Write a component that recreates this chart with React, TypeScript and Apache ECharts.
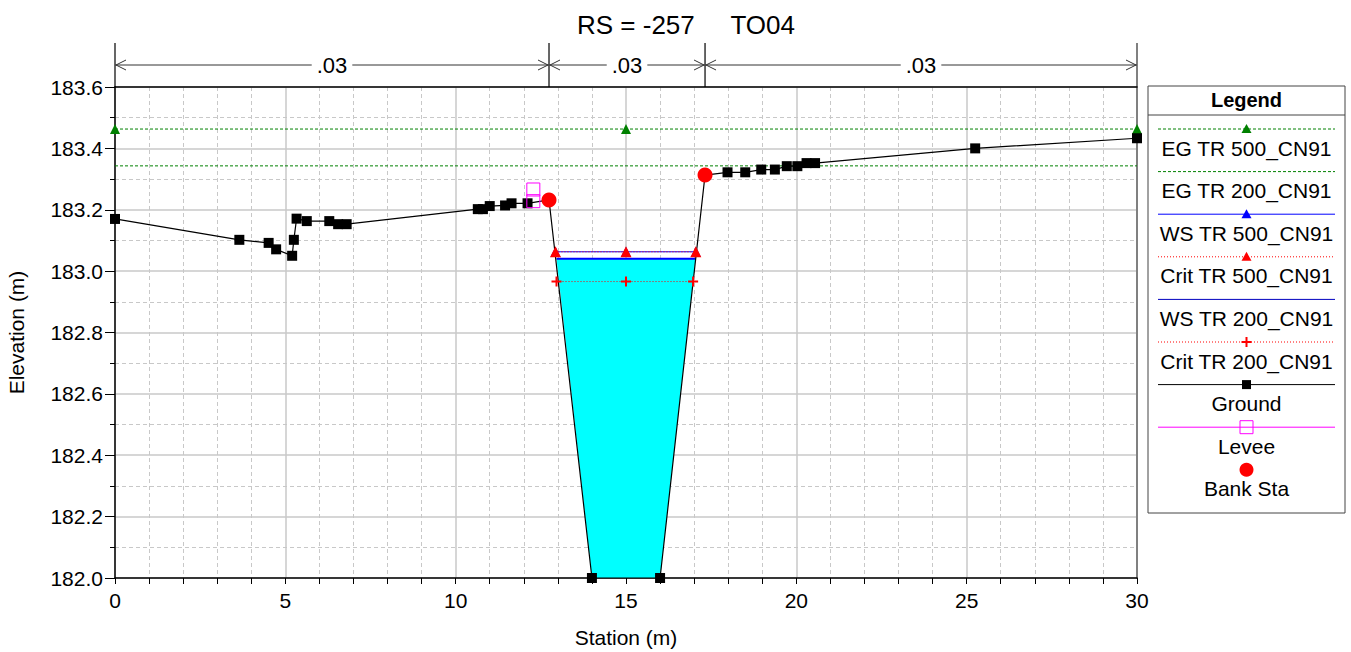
import React, { useEffect, useRef } from "react";
import * as echarts from "echarts";

// ---------- DATA ----------
const titleText = "RS = -257     TO04";
const groundStation = [0, 3.65, 4.51, 4.73, 5.2, 5.25, 5.33, 5.63, 6.29, 6.55, 6.8, 10.65, 10.8, 11.0, 11.45, 11.64, 12.11, 12.74, 14.0, 16.0, 17.32, 17.98, 18.5, 18.97, 19.37, 19.72, 20.03, 20.3, 20.55, 25.25, 30.0];
const groundElev = [183.17, 183.102, 183.092, 183.071, 183.05, 183.102, 183.171, 183.163, 183.163, 183.153, 183.153, 183.202, 183.202, 183.212, 183.214, 183.221, 183.221, 183.232, 182.0, 182.0, 183.313, 183.322, 183.322, 183.331, 183.331, 183.342, 183.342, 183.352, 183.352, 183.4, 183.433];
const bankStation = [12.74, 17.32];
const bankElev = [183.232, 183.313];
const leveeStation = [12.28, 12.28];
const leveeElev = [183.266, 183.228];
const eg500Station = [0, 15, 30];
const eg500Elev = 183.463;
const eg200Station = [0, 30];
const eg200Elev = 183.343;
const ws500Station = [12.93, 15, 17.05];
const ws500Elev = 183.063;
const crit500Station = [12.93, 15, 17.05];
const crit500Elev = 183.063;
const ws200Station = [12.96, 17.04];
const ws200Elev = 183.04;
const crit200Station = [12.96, 15, 16.97];
const crit200Elev = 182.966;
const nBreaks = [0, 12.74, 17.32, 30];
const nValues = [".03", ".03", ".03"];
const xTicks = [0, 5, 10, 15, 20, 25, 30];
const yTickMin = 182.0;
const yTickMax = 183.6;
const yTickStep = 0.2;

const FONT = "'Liberation Sans', Arial, sans-serif";

const legendItems = [
  { name: "EG TR 500_CN91", color: "#008000", dash: [3, 2], marker: "triangle", width: 1 },
  { name: "EG TR 200_CN91", color: "#008000", dash: [3, 2], marker: "", width: 1 },
  { name: "WS TR 500_CN91", color: "#0000ff", dash: null, marker: "triangle", width: 1 },
  { name: "Crit TR 500_CN91", color: "#ff0000", dash: [1, 2], marker: "triangle", width: 1 },
  { name: "WS TR 200_CN91", color: "#0000c0", dash: null, marker: "", width: 1 },
  { name: "Crit TR 200_CN91", color: "#ff0000", dash: [1, 2], marker: "plus", width: 1 },
  { name: "Ground", color: "#000000", dash: null, marker: "square", width: 1 },
  { name: "Levee", color: "#ff00ff", dash: null, marker: "emptySquare", width: 1 },
  { name: "Bank Sta", color: "#ff0000", dash: null, marker: "circle", width: 0 },
];

const PLUS = "path://M4,0H6V4H10V6H6V10H4V6H0V4H4Z";

function pair(st: number[], el: number[] | number) {
  return st.map((s, i) => [s, Array.isArray(el) ? el[i] : el]);
}

function buildLegend() {
  const x0 = 1148, y0 = 86, w = 197, h = 427;
  const cx = x0 + w / 2;
  const els: any[] = [
    { type: "rect", shape: { x: x0, y: y0, width: w, height: h }, style: { fill: "#fff", stroke: "#444", lineWidth: 1 }, z: 100 },
    { type: "text", x: cx, y: 100, style: { text: "Legend", font: `bold 20px ${FONT}`, fill: "#000", align: "center", verticalAlign: "middle" }, z: 101 },
    { type: "line", shape: { x1: x0, y1: 115, x2: x0 + w, y2: 115 }, style: { stroke: "#444", lineWidth: 1 }, z: 101 },
  ];
  legendItems.forEach((it, i) => {
    const ly = 129 + i * 42.6;
    if (it.width > 0) {
      els.push({ type: "line", shape: { x1: 1158, y1: ly, x2: 1335, y2: ly }, style: { stroke: it.color, lineWidth: it.width, lineDash: it.dash || undefined }, z: 101 });
    }
    if (it.marker === "triangle") {
      els.push({ type: "polygon", shape: { points: [[cx, ly - 5], [cx - 5, ly + 4], [cx + 5, ly + 4]] }, style: { fill: it.color }, z: 102 });
    } else if (it.marker === "plus") {
      els.push({ type: "polygon", shape: { points: [[cx - 1, ly - 5], [cx + 1, ly - 5], [cx + 1, ly - 1], [cx + 5, ly - 1], [cx + 5, ly + 1], [cx + 1, ly + 1], [cx + 1, ly + 5], [cx - 1, ly + 5], [cx - 1, ly + 1], [cx - 5, ly + 1], [cx - 5, ly - 1], [cx - 1, ly - 1]] }, style: { fill: it.color }, z: 102 });
    } else if (it.marker === "square") {
      els.push({ type: "rect", shape: { x: cx - 4.5, y: ly - 4.5, width: 9, height: 9 }, style: { fill: it.color }, z: 102 });
    } else if (it.marker === "emptySquare") {
      els.push({ type: "rect", shape: { x: cx - 6.5, y: ly - 6.5, width: 13, height: 13 }, style: { fill: "none", stroke: it.color, lineWidth: 1 }, z: 102 });
    } else if (it.marker === "circle") {
      els.push({ type: "circle", shape: { cx, cy: ly, r: 7 }, style: { fill: it.color }, z: 102 });
    }
    els.push({ type: "text", x: cx, y: ly + 19, style: { text: it.name, font: `21px ${FONT}`, fill: "#000", align: "center", verticalAlign: "middle" }, z: 102 });
  });
  return els;
}

export default function App() {
  const ref = useRef<HTMLDivElement>(null);
  useEffect(() => {
    if (!ref.current) return;
    const chart = echarts.init(ref.current, null, { renderer: "svg" });
    const waterPoly: number[][] = [[ws200Station[0], ws200Elev]];
    groundStation.forEach((s, i) => {
      if (s > ws200Station[0] && s < ws200Station[1] && groundElev[i] < ws200Elev) waterPoly.push([s, groundElev[i]]);
    });
    waterPoly.push([ws200Station[1], ws200Elev]);

    const gridColor = "#c8c8c8";
    const option: any = {
      animation: false,
      backgroundColor: "#fff",
      textStyle: { fontFamily: FONT },
      grid: { left: 115, right: 214, top: 87, bottom: 74, containLabel: false, outerBoundsMode: "none" },
      xAxis: [
        {
          type: "value", min: xTicks[0], max: xTicks[xTicks.length - 1], interval: 5,
          name: "Station (m)", nameLocation: "middle", nameGap: 49,
          nameTextStyle: { fontSize: 21, color: "#000", fontFamily: FONT },
          axisLine: { show: true, onZero: false, lineStyle: { color: "#000", width: 1.5 } },
          axisTick: { show: true, length: 6, lineStyle: { color: "#000" } },
          minorTick: { show: true, splitNumber: 5, length: 6, lineStyle: { color: "#000" } },
          axisLabel: { fontSize: 21, color: "#000", margin: 12, fontFamily: FONT },
          splitLine: { show: true, lineStyle: { color: gridColor, width: 1.5 } },
          minorSplitLine: { show: true, lineStyle: { color: gridColor, type: [4, 3] } },
        },
        {
          type: "value", position: "top", min: xTicks[0], max: xTicks[xTicks.length - 1],
          axisLine: { show: true, onZero: false, lineStyle: { color: "#000", width: 1.5 } },
          axisTick: { show: false }, axisLabel: { show: false }, splitLine: { show: false },
        },
      ],
      yAxis: [
        {
          type: "value", min: yTickMin, max: yTickMax, interval: yTickStep,
          name: "Elevation (m)", nameLocation: "middle", nameGap: 88,
          nameTextStyle: { fontSize: 21, color: "#000", fontFamily: FONT },
          axisLine: { show: true, onZero: false, lineStyle: { color: "#000", width: 1.5 } },
          axisTick: { show: true, length: 10, lineStyle: { color: "#000" } },
          minorTick: { show: true, splitNumber: 2, length: 5, lineStyle: { color: "#000" } },
          axisLabel: { fontSize: 21, color: "#000", margin: 12, fontFamily: FONT, formatter: (v: number) => v.toFixed(1) },
          splitLine: { show: true, lineStyle: { color: gridColor, width: 1.5 } },
          minorSplitLine: { show: true, lineStyle: { color: gridColor, type: [4, 3] } },
        },
        {
          type: "value", position: "right", min: yTickMin, max: yTickMax,
          axisLine: { show: true, onZero: false, lineStyle: { color: "#808080", width: 2 } },
          axisTick: { show: false }, axisLabel: { show: false }, splitLine: { show: false },
        },
      ],
      series: [
        {
          type: "custom", name: "Water", z: 1, clip: false, data: [[0, 0]],
          renderItem: (_p: any, api: any) => ({
            type: "polygon",
            shape: { points: waterPoly.map((p) => api.coord(p)) },
            style: { fill: "#00ffff" },
          }),
        },
        { type: "line", name: legendItems[1].name, data: pair(eg200Station, eg200Elev), symbol: "none", lineStyle: { color: "#008000", width: 1, type: [3, 2] }, z: 2 },
        { type: "line", name: legendItems[0].name, data: pair(eg500Station, eg500Elev), symbol: "triangle", symbolSize: 10, itemStyle: { color: "#008000" }, lineStyle: { color: "#008000", width: 1, type: [3, 2] }, z: 2 },
        { type: "line", name: legendItems[6].name, data: pair(groundStation, groundElev), symbol: "rect", symbolSize: 10, itemStyle: { color: "#000" }, lineStyle: { color: "#000", width: 1.2 }, z: 4 },
        { type: "line", name: legendItems[4].name, data: pair(ws200Station, ws200Elev), symbol: "none", lineStyle: { color: "#0000ff", width: 2 }, z: 3 },
        { type: "line", name: legendItems[2].name, data: pair(ws500Station, ws500Elev), symbol: "triangle", symbolSize: 10, itemStyle: { color: "#0000ff" }, lineStyle: { color: "#0000ff", width: 1 }, z: 3 },
        { type: "line", name: legendItems[3].name, data: pair(crit500Station, crit500Elev), symbol: "triangle", symbolSize: 11, itemStyle: { color: "#ff0000" }, lineStyle: { color: "#ff0000", width: 1, type: [1, 2] }, z: 5 },
        { type: "line", name: legendItems[5].name, data: pair(crit200Station, crit200Elev), symbol: PLUS, symbolSize: 10, itemStyle: { color: "#ff0000" }, lineStyle: { color: "#ff0000", width: 1, type: [1, 2] }, z: 5 },
        { type: "scatter", name: legendItems[7].name, data: pair(leveeStation, leveeElev), symbol: "rect", symbolSize: 13, itemStyle: { color: "rgba(0,0,0,0)", borderColor: "#ff00ff", borderWidth: 1, opacity: 1 }, z: 6 },
        { type: "scatter", name: legendItems[8].name, data: pair(bankStation, bankElev), symbol: "circle", symbolSize: 15, itemStyle: { color: "#ff0000", opacity: 1 }, z: 7 },
      ],
    };
    chart.setOption(option);

    const px = (s: number) => chart.convertToPixel({ xAxisIndex: 0 }, s) as number;
    const topY = 43, arrowY = 65, gridTop = 87;
    const g: any[] = [
      { type: "text", x: 686, y: 25, style: { text: titleText, font: `26px ${FONT}`, fill: "#000", align: "center", verticalAlign: "middle" } },
    ];
    nBreaks.forEach((b, i) => {
      const x = px(b);
      const last = i === nBreaks.length - 1;
      g.push({ type: "line", shape: { x1: x, y1: topY, x2: x, y2: gridTop }, style: { stroke: last ? "#808080" : "#000", lineWidth: last ? 2 : 1.2 } });
    });
    nValues.forEach((v, i) => {
      const a = px(nBreaks[i]), b = px(nBreaks[i + 1]);
      g.push({ type: "line", shape: { x1: a, y1: arrowY, x2: b, y2: arrowY }, style: { stroke: "#333", lineWidth: 1 } });
      g.push({ type: "polyline", shape: { points: [[a + 11, arrowY - 5], [a + 1, arrowY], [a + 11, arrowY + 5]] }, style: { stroke: "#333", lineWidth: 1, fill: "none" } });
      g.push({ type: "polyline", shape: { points: [[b - 11, arrowY - 5], [b - 1, arrowY], [b - 11, arrowY + 5]] }, style: { stroke: "#333", lineWidth: 1, fill: "none" } });
      g.push({ type: "text", x: (a + b) / 2, y: arrowY, style: { text: v, font: `22px ${FONT}`, fill: "#000", align: "center", verticalAlign: "middle", backgroundColor: "#fff", padding: [0, 5] } });
    });
    chart.setOption({ graphic: [...g, ...buildLegend()] });

    return () => chart.dispose();
  }, []);
  return <div ref={ref} style={{ position: "fixed", left: 0, top: 0, width: 1351, height: 652 }} />;
}
